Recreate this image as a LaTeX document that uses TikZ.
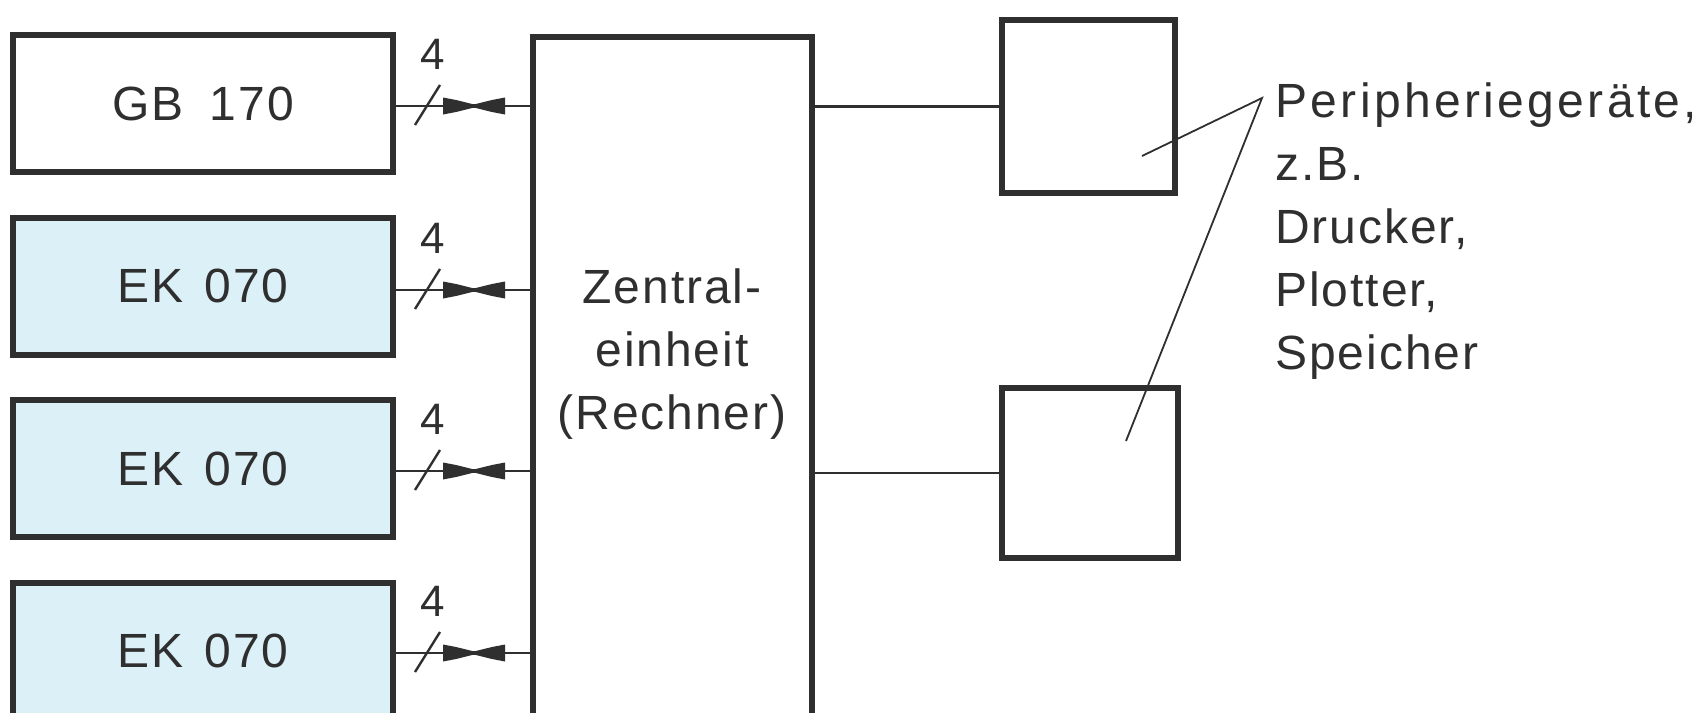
\documentclass[tikz,border=0pt]{standalone}
\usepackage{fontspec}
\setmainfont{Liberation Sans}[LetterSpace=4]
\definecolor{ink}{HTML}{2F2F2F}
\definecolor{ekfill}{HTML}{DCF0F8}
\tikzset{
  unit/.style={draw=ink, line width=3pt, minimum width=190pt, minimum height=68.5pt,
    inner sep=0pt, text=ink, font=\fontsize{24}{30}\selectfont},
  ekunit/.style={unit, fill=ekfill},
  perbox/.style={draw=ink, line width=3pt, inner sep=0pt},
  cpubox/.style={draw=ink, line width=2.6pt, minimum width=139.5pt, minimum height=381.5pt, inner sep=0pt},
  conn/.style={draw=ink, line width=1.4pt},
  leader/.style={draw=ink, line width=0.9pt},
  bus/.style={text=ink, inner sep=0pt, font=\fontsize{22}{24}\selectfont},
  txt/.style={text=ink, inner sep=0pt, font=\fontsize{24}{31.5}\selectfont},
  plug/.pic={
    \fill[ink] (0,-8.5) -- (13,-6) -- (30,-1.8) -- (32,-1.8) -- (49,-6) -- (62,-8.5)
               -- (62,8.5) -- (49,6) -- (32,1.8) -- (30,1.8) -- (13,6) -- (0,8.5) -- cycle;
    \draw[ink, line width=1.2pt] (-28,19) -- (-3,-21);
  }
}
\begin{document}
\begin{tikzpicture}[x=0.5pt,y=-0.5pt]
\useasboundingbox (0,0) rectangle (1706,712);
\clip (0,0) rectangle (1706,712);
\fill[white] (0,0) rectangle (1706,712);

% left units
\node[unit]   (gb)  at (203,103.5) {GB\hspace{0.55em}170};
\node[ekunit] (ek1) at (203,286)   {EK\hspace{0.45em}070};
\node[ekunit] (ek2) at (203,468.5) {EK\hspace{0.45em}070};
\node[ekunit] (ek3) at (203,651)   {EK\hspace{0.45em}070};

% central unit
\node[cpubox] (cpu) at (672.5,418.5) {};
\node[txt, align=center] (cpulabel) at (672,354) {Zentral-\\einheit\\(Rechner)};

% peripherals
\node[perbox, minimum width=86.5pt, minimum height=86.5pt] (p1) at (1088.5,106.5) {};
\node[perbox, minimum width=88pt, minimum height=85pt] (p2) at (1090,473) {};

% bus line rows
\coordinate (r1) at (0,106);
\coordinate (r2) at (0,290);
\coordinate (r3) at (0,471);
\coordinate (r4) at (0,653);

\draw[conn] (gb.east|-r1)  -- (cpu.west|-r1);
\draw[conn] (ek1.east|-r2) -- (cpu.west|-r2);
\draw[conn] (ek2.east|-r3) -- (cpu.west|-r3);
\draw[conn] (ek3.east|-r4) -- (cpu.west|-r4);

\pic at (443,106) {plug};
\pic at (443,290) {plug};
\pic at (443,471) {plug};
\pic at (443,653) {plug};

\node[bus] (n1) at (433,54)  {4};
\node[bus] (n2) at (433,238) {4};
\node[bus] (n3) at (433,419) {4};
\node[bus] (n4) at (433,601) {4};

% peripheral connectors
\draw[conn] (cpu.east|-p1) -- (p1.west);
\draw[conn] (cpu.east|-p2) -- (p2.west);

% annotation
\node[txt, align=left, anchor=north west] (per) at (1275,82)
  {{\addfontfeature{LetterSpace=7}Peripherieger\"ate,}\\z.B.\\Drucker,\\Plotter,\\Speicher};
\coordinate (apex) at (1262,98);
\coordinate (e1) at (1142,156);
\coordinate (e2) at (1126,441);
\draw[leader] (e1) -- (apex) -- (e2);
\end{tikzpicture}
\end{document}
